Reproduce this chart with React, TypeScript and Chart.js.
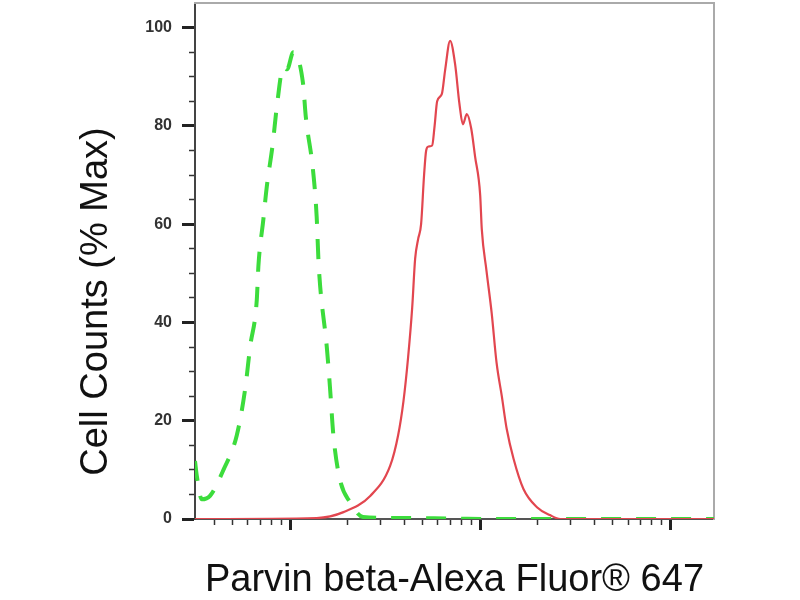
import React, { useEffect, useRef } from 'react'
import { Chart, registerables } from 'chart.js'

Chart.register(...registerables)

// isotype control (green dashed) - fluorescence intensity vs % max
const controlX = [3.16, 3.23, 3.43, 3.79, 4.46, 5.24, 5.8, 6.16, 6.68, 6.81, 7.23, 7.54, 8.11, 8.51, 9.22, 9.64, 10.4, 11.7, 12.1, 13.2, 13.8, 14.1, 14.4, 15.6, 16.2, 16.9, 18.3, 20.7, 24.2, 38, 70, 127, 1700]
const controlY = [11.8, 8.8, 4, 4.7, 10, 17, 26.4, 35, 44.6, 51.4, 60.9, 67.6, 76.4, 83.8, 92, 91.5, 95, 88.6, 81.8, 71, 61.5, 52.7, 47.3, 35, 27, 17, 8, 3.4, 0.4, 0.2, 0.1, 0, 0]

// Parvin beta stained sample (red)
const sampleX = [3.16, 13.8, 19.1, 26.4, 33.6, 37, 39.5, 41.8, 43.9, 45.5, 47.2, 48.9, 50.7, 52, 53.5, 55.9, 57.6, 59.4, 62.9, 65.4, 69.5, 73.8, 77.8, 81.1, 85.1, 89.7, 94.1, 100, 102, 108, 115, 122, 130, 138, 150, 169, 199, 233, 264, 1700]
const sampleY = [0, 0.2, 1.4, 4.7, 10.8, 17, 24, 33, 43, 53, 57, 60, 70, 75, 75.8, 76, 80, 85, 86.5, 91.3, 97.3, 92.6, 84.5, 80.3, 82.4, 79.5, 73.7, 66, 59, 50.5, 41.9, 31.8, 25, 18.3, 12.2, 6.1, 2.4, 0.8, 0, 0]

const yMajorTicks = [0, 20, 40, 60, 80, 100]
const yMinorTicks = [5, 10, 15, 25, 30, 35, 45, 50, 55, 65, 70, 75, 85, 90, 95]
const xMajorTicks = [10, 100, 1000]
const xMinorTicks = [4, 5, 6, 7, 8, 9, 20, 30, 40, 50, 60, 70, 80, 90, 200, 300, 400, 500, 600, 700, 800, 900]

const FONT = 'Arial, "Liberation Sans", sans-serif'

const toPoints = (xs: number[], ys: number[]) => xs.map((x, i) => ({ x, y: ys[i] }))

// keep label overflow from pushing the plot area around
const noPad = (s: any) => {
	s.paddingTop = 0
	s.paddingBottom = 0
	s.paddingLeft = 0
	s.paddingRight = 0
}

const App: React.FC = () => {
	const chartRef = useRef<HTMLCanvasElement>(null)

	useEffect(() => {
		if (!chartRef.current) return
		const context = chartRef.current.getContext('2d')
		if (!context) return

		const chart = new Chart(context, {
			type: 'line',
			data: {
				datasets: [
					{
						label: 'Parvin beta',
						data: toPoints(sampleX, sampleY),
						borderColor: '#e2464f',
						borderWidth: 2.2,
						pointRadius: 0,
						cubicInterpolationMode: 'monotone',
						xAxisID: 'x',
						yAxisID: 'y',
					},
					{
						label: 'Isotype control',
						data: toPoints(controlX, controlY),
						borderColor: '#3cdc3c',
						borderWidth: 4,
						borderDash: [20, 15],
						pointRadius: 0,
						cubicInterpolationMode: 'monotone',
						xAxisID: 'x',
						yAxisID: 'y',
					},
				],
			},
			options: {
				responsive: false,
				animation: false,
				layout: { padding: { top: 3, right: 86, bottom: 0, left: 0 } },
				plugins: {
					legend: { display: false },
					tooltip: { enabled: false },
					title: {
						display: true,
						position: 'left',
						text: 'Cell Counts (% Max)',
						color: '#111',
						font: { family: FONT, size: 38, weight: 'normal', lineHeight: 1 },
						padding: { top: 78, bottom: 19 },
					},
				},
				scales: {
					x: {
						type: 'logarithmic',
						position: 'bottom',
						weight: 1,
						min: 3.16,
						max: 1700,
						afterBuildTicks: (s) => {
							s.ticks = xMajorTicks.map((value) => ({ value }))
						},
						afterFit: (s) => {
							s.height = 81
							noPad(s)
						},
						ticks: { display: false },
						grid: {
							drawOnChartArea: false,
							tickLength: 11,
							tickWidth: 3,
							tickColor: '#222',
						},
						border: { display: true, color: '#555', width: 2 },
						title: {
							display: true,
							text: 'Parvin beta-Alexa Fluor® 647',
							color: '#111',
							font: { family: FONT, size: 38, lineHeight: 1 },
							padding: { top: 0, bottom: 0 },
						},
					},
					xMinor: {
						type: 'logarithmic',
						position: 'bottom',
						weight: 0,
						min: 3.16,
						max: 1700,
						afterBuildTicks: (s) => {
							s.ticks = xMinorTicks.map((value) => ({ value }))
						},
						afterFit: (s) => {
							s.height = 0
							noPad(s)
						},
						ticks: { display: false },
						grid: {
							drawOnChartArea: false,
							tickLength: 6,
							tickWidth: 1.5,
							tickColor: '#333',
						},
						border: { display: false },
					},
					y: {
						type: 'linear',
						position: 'left',
						weight: 1,
						min: 0,
						max: 105,
						afterBuildTicks: (s) => {
							s.ticks = yMajorTicks.map((value) => ({ value }))
						},
						afterFit: (s) => {
							s.width = 60
							noPad(s)
						},
						ticks: {
							color: '#333',
							padding: 10,
							font: { family: FONT, size: 16, weight: 'bold' },
						},
						grid: {
							drawOnChartArea: false,
							tickLength: 13,
							tickWidth: 3,
							tickColor: '#222',
						},
						border: { display: true, color: '#444', width: 2 },
					},
					yMinor: {
						type: 'linear',
						position: 'left',
						weight: 0,
						min: 0,
						max: 105,
						afterBuildTicks: (s) => {
							s.ticks = yMinorTicks.map((value) => ({ value }))
						},
						afterFit: (s) => {
							s.width = 0
							noPad(s)
						},
						ticks: { display: false },
						grid: {
							drawOnChartArea: false,
							tickLength: 6,
							tickWidth: 1.5,
							tickColor: '#333',
						},
						border: { display: false },
					},
					frameTop: {
						type: 'linear',
						position: 'top',
						min: 0,
						max: 1,
						afterFit: (s) => {
							s.height = 0
							noPad(s)
						},
						ticks: { display: false },
						grid: { display: false },
						border: { display: true, color: '#aaa', width: 2 },
					},
					frameRight: {
						type: 'linear',
						position: 'right',
						min: 0,
						max: 1,
						afterFit: (s) => {
							s.width = 0
							noPad(s)
						},
						ticks: { display: false },
						grid: { display: false },
						border: { display: true, color: '#aaa', width: 2 },
					},
				},
			},
		})

		return () => {
			chart.destroy()
		}
	}, [])

	return (
		<div style={{ position: 'absolute', left: 0, top: 0, width: 800, height: 600, background: '#fff' }}>
			<canvas ref={chartRef} width={800} height={600} />
		</div>
	)
}

export default App
